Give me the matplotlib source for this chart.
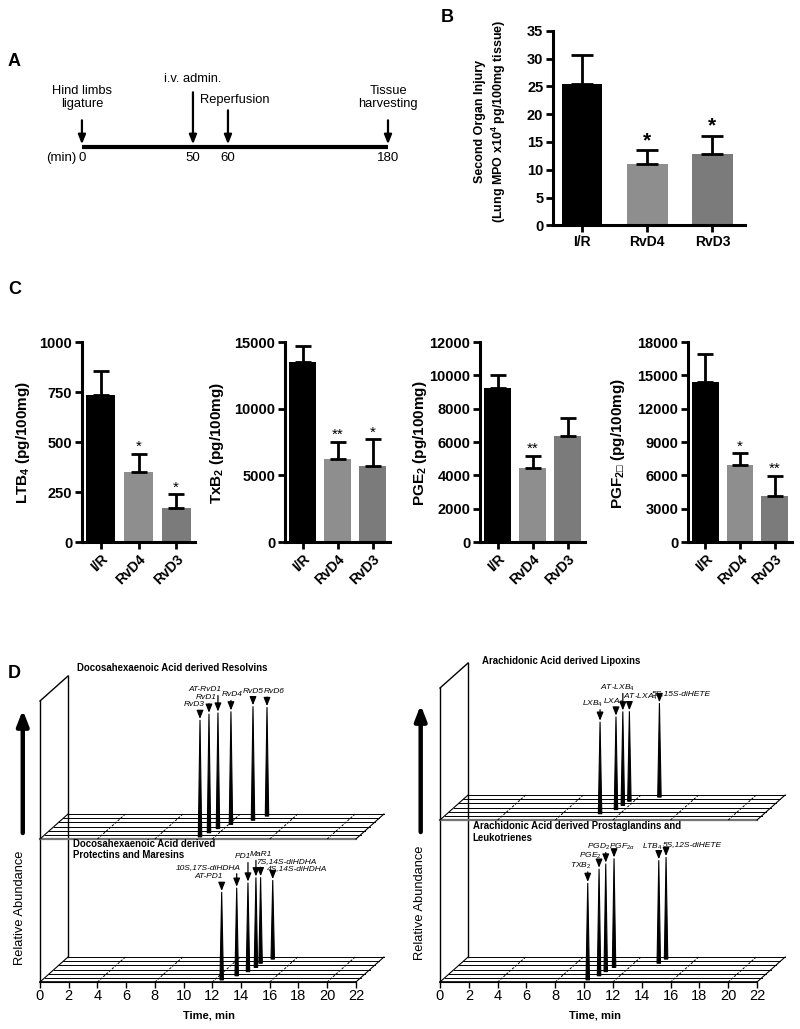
import numpy as np
import matplotlib
matplotlib.use('Agg')
import matplotlib.pyplot as plt

plt.rcParams['font.family'] = ['Liberation Sans', 'DejaVu Sans']
plt.rcParams['mathtext.fontset'] = 'custom'
plt.rcParams['mathtext.rm'] = 'Liberation Sans'
plt.rcParams['mathtext.it'] = 'Liberation Sans:italic'
plt.rcParams['mathtext.bf'] = 'Liberation Sans:bold'
plt.rcParams['mathtext.fallback'] = 'stixsans'

W, H = 800, 1029

# ---------------- data ----------------
# A: protocol (min)
events_min = [0, 50, 60, 180]
events_txt = ['Hind limbs\nligature', 'i.v. admin.', 'Reperfusion', 'Tissue\nharvesting']

# B / C: bar charts (mean, sem, significance)
groups = ['I/R', 'RvD4', 'RvD3']
mpo_mean = [25.4, 11.1, 12.9]
mpo_sem = [5.2, 2.4, 3.2]
mpo_sig = ['', '*', '*']

ltb4_mean = [735, 350, 171]
ltb4_sem = [119, 89, 67]
ltb4_sig = ['', '*', '*']

txb2_mean = [13500, 6200, 5700]
txb2_sem = [1200, 1300, 2000]
txb2_sig = ['', '**', '*']

pge2_mean = [9220, 4420, 6380]
pge2_sem = [780, 770, 1050]
pge2_sig = ['', '**', '']

pgf2a_mean = [14400, 6950, 4100]
pgf2a_sem = [2550, 1030, 1820]
pgf2a_sig = ['', '*', '**']

# D: chromatograms - retention time (min), depth lane, relative height
res_names = ['RvD3', 'RvD1', 'AT-RvD1', 'RvD4', 'RvD5', 'RvD6']
res_rt = [10.98, 11.28, 11.58, 12.16, 13.37, 14.02]
res_lane = [0, 1, 2, 3, 4, 5]
res_height = [117, 119, 116, 113, 114, 109]

prot_names = ['AT-PD1', '10S,17S-diHDHA', 'PD1', 'MaR1', '7S,14S-diHDHA', '4S,14S-diHDHA']
prot_rt = [12.49, 13.21, 13.67, 13.90, 13.90, 14.42]
prot_lane = [0, 1, 2, 3, 4, 5]
prot_height = [88, 88, 89, 90, 86, 79]

lx_names = ['LXB$_4$', 'LXA$_4$', 'AT-LXB$_4$', 'AT-LXA$_4$', '5S,15S-diHETE']
lx_rt = [10.62, 11.40, 11.55, 11.68, 13.44]
lx_lane = [1, 2, 3, 4, 5]
lx_height = [92, 93, 94, 90, 94]

pg_names = ['TXB$_2$', 'PGE$_2$', 'PGD$_2$', r'PGF$_{2\alpha}$', 'LTB$_4$', '5S,12S-diHETE']
pg_rt = [10.09, 10.55, 10.69, 10.94, 13.72, 13.90]
pg_lane = [0, 1, 2, 3, 4, 5]
pg_height = [97, 107, 108, 109, 103, 102]

# label offsets (px) from peak tops
res_off = [(-6, 15), (-3, 16), (-13, 23), (1.5, 17), (0, 15), (7.5, 16)]
prot_off = [(-13, 15), (-28, 20), (-5.5, 26), (4.5, 23), (26, 16), (24, 12)]
lx_off = [(-8, 18), (-2.5, 15), (-5, 24), (11, 14), (22, 10)]
pg_off = [(-6.7, 17), (-8.5, 13), (-7, 17), (7.5, 12), (-7, 13), (26.5, 13)]

bar_colors = ['black', '#8e8e8e', '#7b7b7b']

fig = plt.figure(figsize=(W / 100, H / 100), dpi=100)


def px_axes(x0, y0, x1, y1):
    return fig.add_axes([x0 / W, 1 - y1 / H, (x1 - x0) / W, (y1 - y0) / H])


def fig_text(x, y, s, **kw):
    fig.text(x / W, 1 - y / H, s, **kw)


# ---------------- A ----------------
knots_min = [-1000, 0, 50, 60, 180, 1180]
knots_pos = [-2220, 0, 111, 146, 306, 1639]   # schematic, not to scale


def fwd(t):
    return np.interp(t, knots_min, knots_pos)


def inv(s):
    return np.interp(s, knots_pos, knots_min)


axA = px_axes(0, 60, 420, 200)
axA.set_xscale('function', functions=(fwd, inv))
axA.set_xlim(-36.9, 204)
axA.set_ylim(-52.7, 87.3)
axA.axis('off')
axA.plot([events_min[0], events_min[-1]], [0, 0], color='k', lw=3, solid_capstyle='butt')
tails = [27, 55, 37, 27]
lab_y = [37, 62, 41, 37]
for t, s, ty, ly in zip(events_min, events_txt, tails, lab_y):
    axA.annotate('', xy=(t, 3), xytext=(t, ty),
                 arrowprops=dict(arrowstyle='-|>,head_length=0.55,head_width=0.22',
                                 lw=1.6, color='k', shrinkA=0, shrinkB=0))
    dx = 5 if s == 'Reperfusion' else 0
    axA.text(t + dx, ly, s, ha='center', va='bottom', fontsize=9.3, linespacing=1.1)
    axA.text(t, -11, str(t), ha='center', va='center', fontsize=9.5)
axA.text(-2.5, -11, '(min)', ha='right', va='center', fontsize=9.5)


# ---------------- bar helper ----------------
def bar_panel(ax, means, sems, sig, yticks, width, capsize, star_kw, rot):
    x = np.arange(len(groups))
    ax.bar(x, means, width=width, color=bar_colors, zorder=2)
    ax.errorbar(x, means, yerr=[np.zeros(len(sems)), sems], fmt='none', ecolor='k',
                elinewidth=2, capsize=capsize, capthick=2, zorder=3)
    for xi, m, s, st in zip(x, means, sems, sig):
        if st:
            ax.annotate(st, (xi, m + s), xytext=(0, 0), textcoords='offset points',
                        ha='center', va='bottom', **star_kw)
    ax.set_ylim(yticks[0], yticks[-1])
    ax.set_xlim(-0.5, 2.5)
    ax.set_yticks(yticks, labels=[str(v) for v in yticks], fontweight='bold', fontsize=10.5)
    if rot:
        ax.set_xticks(x, labels=groups, rotation=45, ha='right', rotation_mode='anchor',
                      fontweight='bold', fontsize=10)
    else:
        ax.set_xticks(x, labels=groups, fontweight='bold', fontsize=10)
    for side in ['top', 'right']:
        ax.spines[side].set_visible(False)
    for side in ['left', 'bottom']:
        ax.spines[side].set_linewidth(2.2)
    ax.tick_params(width=2, length=5, pad=2)


# ---------------- B ----------------
axB = px_axes(553, 30.7, 745, 225.3)
bar_panel(axB, mpo_mean, mpo_sem, mpo_sig, list(range(0, 36, 5)), 0.62, 8,
          dict(fontsize=15, fontweight='bold'), False)
axB.set_xlim(-0.45, 2.5)
fig_text(491, 121.7, 'Second Organ Injury\n(Lung MPO x10$^\\mathbf{4}$ pg/100mg tissue)',
         rotation=90, ha='center', va='center', fontsize=9, fontweight='bold',
         multialignment='center', linespacing=1.3)

# ---------------- C ----------------
c_specs = [
    (82, 195, ltb4_mean, ltb4_sem, ltb4_sig, [0, 250, 500, 750, 1000],
     'LTB$_\\mathbf{4}$ (pg/100mg)', 23),
    (285, 390, txb2_mean, txb2_sem, txb2_sig, [0, 5000, 10000, 15000],
     'TxB$_\\mathbf{2}$ (pg/100mg)', 217),
    (480, 585, pge2_mean, pge2_sem, pge2_sig, list(range(0, 12001, 2000)),
     'PGE$_\\mathbf{2}$ (pg/100mg)', 420),
    (688, 792, pgf2a_mean, pgf2a_sem, pgf2a_sig, list(range(0, 18001, 3000)),
     'PGF$_\\mathbf{2\u25a1}$ (pg/100mg)', 618),
]
for x0, x1, m, s, sg, yt, lab, lx in c_specs:
    ax = px_axes(x0, 342, x1, 542)
    bar_panel(ax, m, s, sg, yt, 0.77, 6, dict(fontsize=11), True)
    fig_text(lx, 443, lab, rotation=90, ha='center', va='center', fontsize=11,
             fontweight='bold')

# ---------------- D ----------------
N_LANES = 6
DX = 1.95
DY = 25
T_MAX = 22


def d_axes(x0, ppm):
    ax = px_axes(x0, 640, x0 + 400, 1029)
    ax.set_xlim(-40 / ppm, 360 / ppm)
    ax.set_ylim(-47, 342)
    for side in ['top', 'right', 'left']:
        ax.spines[side].set_visible(False)
    ax.spines['bottom'].set_position(('data', 0))
    ax.spines['bottom'].set_bounds(0, T_MAX)
    ax.spines['bottom'].set_linewidth(1.2)
    ax.set_yticks([])
    ax.set_xticks(range(0, T_MAX + 1, 2))
    ax.tick_params(axis='x', direction='out', length=4, width=1, labelsize=10.5, pad=1)
    return ax


def draw_floor(ax, base, front_col='k', front_lw=0.8):
    for k in range(N_LANES + 1):
        d = k / N_LANES
        col, lw = (front_col, front_lw) if k == 0 else ('k', 0.7)
        ax.plot([d * DX, T_MAX + d * DX], [base + d * DY] * 2, color=col, lw=lw)
    for t in [0, T_MAX]:
        ax.plot([t, t + DX], [base, base + DY], color='k', lw=0.8)
    for t in range(4, T_MAX, 4):
        ax.plot([t, t + DX], [base, base + DY], color='k', lw=0.7, ls=(0, (2.5, 1.5)))


def draw_peaks(ax, base, names, rt, lane, height, offs, ppm):
    w = 0.12
    for n, t, k, h, (dx, dy) in zip(names, rt, lane, height, offs):
        d = (k + 0.5) / N_LANES
        x = t + d * DX
        y0 = base + d * DY
        y1 = y0 + h
        ax.fill([x - w, x, x + w], [y0, y1, y0], color='k', lw=0.8, zorder=3)
        ax.annotate('', xy=(x, y1 + 1), xytext=(x, y1 + dy - 6),
                    arrowprops=dict(arrowstyle='-|>,head_length=0.5,head_width=0.2',
                                    lw=0.9, color='k', shrinkA=0, shrinkB=0))
        ax.text(x + dx / ppm, y1 + dy, n, ha='center', va='center', fontsize=6,
                style='italic')


def draw_box(ax, wall_h, up_base):
    ax.plot([0, 0], [0, wall_h], color='k', lw=1)
    ax.plot([DX, DX], [DY, wall_h + DY], color='k', lw=1)
    ax.plot([0, DX], [wall_h, wall_h + DY], color='k', lw=1)
    draw_floor(ax, 0)
    draw_floor(ax, up_base, front_col='0.45', front_lw=1.6)


def big_arrow(ax, t, yb, yt):
    ax.annotate('', xy=(t, yt), xytext=(t, yb),
                arrowprops=dict(arrowstyle='-|>,head_length=0.9,head_width=0.35',
                                lw=3.2, color='k', shrinkA=0, shrinkB=0))


# left D
ppmL = 14.36
axDL = d_axes(0, ppmL)
draw_box(axDL, 281, 143)
draw_peaks(axDL, 143, res_names, res_rt, res_lane, res_height, res_off, ppmL)
draw_peaks(axDL, 0, prot_names, prot_rt, prot_lane, prot_height, prot_off, ppmL)
big_arrow(axDL, -1.2, 149, 272)
axDL.text(-1.39, 74, 'Relative Abundance', rotation=90, ha='center', va='center', fontsize=9.3)
axDL.text(11.8, -33, 'Time, min', ha='center', va='center', fontsize=8, fontweight='bold')
axDL.text(2.58, 314, 'Docosahexaenoic Acid derived Resolvins', ha='left', va='center',
          fontsize=6.9, fontweight='bold')
axDL.text(2.3, 132.5, 'Docosahexaenoic Acid derived\nProtectins and Maresins', ha='left',
          va='center', fontsize=6.9, fontweight='bold', linespacing=1.2)

# right D
ppmR = 14.41
axDR = d_axes(400, ppmR)
draw_box(axDR, 294, 162)
draw_peaks(axDR, 162, lx_names, lx_rt, lx_lane, lx_height, lx_off, ppmR)
draw_peaks(axDR, 0, pg_names, pg_rt, pg_lane, pg_height, pg_off, ppmR)
big_arrow(axDR, -1.34, 150, 277)
axDR.text(-1.39, 79, 'Relative Abundance', rotation=90, ha='center', va='center', fontsize=9.3)
axDR.text(10.76, -33, 'Time, min', ha='center', va='center', fontsize=8, fontweight='bold')
axDR.text(2.89, 321, 'Arachidonic Acid derived Lipoxins', ha='left', va='center',
          fontsize=6.9, fontweight='bold')
axDR.text(2.27, 150, 'Arachidonic Acid derived Prostaglandins and\nLeukotrienes', ha='left',
          va='center', fontsize=6.9, fontweight='bold', linespacing=1.2)

# panel letters
for s, x, y in [('A', 8, 62), ('B', 441, 18), ('C', 8, 290), ('D', 8, 673)]:
    fig_text(x, y, s, fontsize=13, fontweight='bold', va='center', ha='left')

fig.savefig('out.png', dpi=100)
